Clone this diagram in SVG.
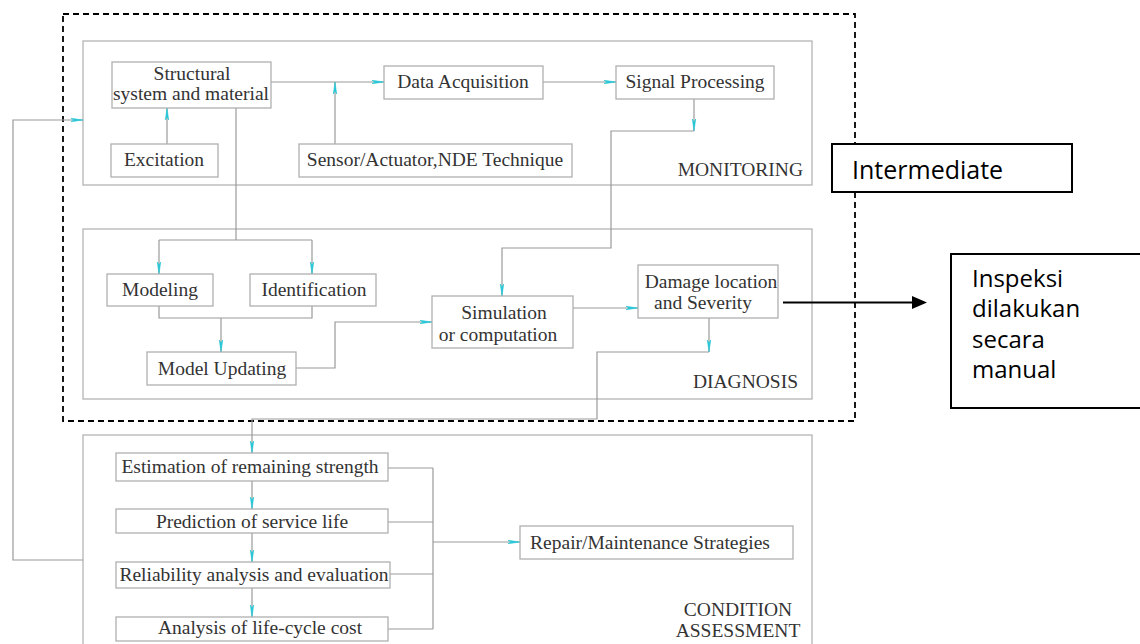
<svg xmlns="http://www.w3.org/2000/svg" width="1140" height="644" viewBox="0 0 1140 644">
  <style>
    .panel { fill: none; stroke: #b4b4b4; stroke-width: 1.3; }
    .box { fill: #fff; stroke: #b0b0b0; stroke-width: 1.3; }
    .wire { fill: none; stroke: #9a9a9a; stroke-width: 1.2; }
    .lbl { font-family: "Liberation Serif", "Times New Roman", serif; font-size: 19.5px; fill: #333; }
    .mid { text-anchor: middle; }
    .end { text-anchor: end; }
    .note { font-family: "Open Sans", "DejaVu Sans", sans-serif; font-size: 25px; fill: #000; }
    .note-sm { font-size: 24px; }
    .notebox { fill: #fff; stroke: #000; stroke-width: 2; }
  </style>
  <defs>
    <marker id="tip" markerUnits="userSpaceOnUse" markerWidth="14" markerHeight="8" refX="12" refY="3.5" orient="auto">
      <path d="M0,1.8 L12,3.5 L0,5.2 L3,3.5 z" fill="#27c7d6" stroke="#27c7d6" stroke-width="0.6"/>
    </marker>
  </defs>

  <rect width="1140" height="644" fill="#fff"/>

  <!-- stage panels -->
  <g id="monitoring">
    <rect class="panel" x="83" y="41" width="729" height="144"/>
    <text class="lbl end" x="803" y="176">MONITORING</text>
  </g>
  <g id="diagnosis">
    <rect class="panel" x="83" y="229" width="729" height="170"/>
    <text class="lbl end" x="798" y="388">DIAGNOSIS</text>
  </g>
  <g id="condition-assessment">
    <rect class="panel" x="83" y="435" width="729" height="220"/>
    <text class="lbl mid" x="738" y="616">CONDITION</text>
    <text class="lbl mid" x="738" y="637">ASSESSMENT</text>
  </g>

  <!-- intermediate boundary -->
  <rect id="intermediate-zone" x="63" y="14" width="792" height="407" fill="none" stroke="#000" stroke-width="1.8" stroke-dasharray="6 4"/>

  <!-- connectors -->
  <g id="connectors">
    <path class="wire" d="M271,82 H384" marker-end="url(#tip)"/>
    <path class="wire" d="M335,144 V82" marker-end="url(#tip)"/>
    <path class="wire" d="M167,144 V108" marker-end="url(#tip)"/>
    <path class="wire" d="M543,82 H616" marker-end="url(#tip)"/>
    <path class="wire" d="M694,99 V131" marker-end="url(#tip)"/>
    <path class="wire" d="M694,131 H611 V248 H502 V296" marker-end="url(#tip)"/>
    <path class="wire" d="M236,108 V240"/>
    <path class="wire" d="M159,240 H312"/>
    <path class="wire" d="M159,240 V274" marker-end="url(#tip)"/>
    <path class="wire" d="M312,240 V274" marker-end="url(#tip)"/>
    <path class="wire" d="M159,306 V318 H312 V306"/>
    <path class="wire" d="M221,318 V352" marker-end="url(#tip)"/>
    <path class="wire" d="M296,368 H335 V322 H432" marker-end="url(#tip)"/>
    <path class="wire" d="M573,308 H638" marker-end="url(#tip)"/>
    <path class="wire" d="M709,318 V352" marker-end="url(#tip)"/>
    <path class="wire" d="M709,352 H597 V419 H252 V453" marker-end="url(#tip)"/>
    <path class="wire" d="M252,481 V509" marker-end="url(#tip)"/>
    <path class="wire" d="M252,533 V562" marker-end="url(#tip)"/>
    <path class="wire" d="M252,588 V617" marker-end="url(#tip)"/>
    <path class="wire" d="M388,468 H433 M388,522 H433 M390,574 H433 M388,629 H433 M433,468 V629"/>
    <path class="wire" d="M433,542 H520" marker-end="url(#tip)"/>
    <path class="wire" d="M83,560 H13 V120 H83" marker-end="url(#tip)"/>
    <path d="M783,302.5 H913" fill="none" stroke="#000" stroke-width="2"/>
    <polygon points="912,296 927,302.5 912,309" fill="#000"/>
  </g>

  <!-- monitoring nodes -->
  <g id="structural">
    <rect class="box" x="112" y="62" width="159" height="46"/>
    <text class="lbl mid" x="192" y="80">Structural</text>
    <text class="lbl mid" x="191" y="100">system and material</text>
  </g>
  <g id="excitation">
    <rect class="box" x="111" y="144" width="107" height="33"/>
    <text class="lbl mid" x="164" y="166">Excitation</text>
  </g>
  <g id="sensor">
    <rect class="box" x="299" y="144" width="273" height="33"/>
    <text class="lbl mid" x="435" y="166">Sensor/Actuator,NDE Technique</text>
  </g>
  <g id="data-acquisition">
    <rect class="box" x="384" y="66" width="159" height="33"/>
    <text class="lbl mid" x="463" y="88">Data Acquisition</text>
  </g>
  <g id="signal-processing">
    <rect class="box" x="616" y="66" width="158" height="33"/>
    <text class="lbl mid" x="695" y="88">Signal Processing</text>
  </g>

  <!-- diagnosis nodes -->
  <g id="modeling">
    <rect class="box" x="107" y="274" width="106" height="32"/>
    <text class="lbl mid" x="160" y="296">Modeling</text>
  </g>
  <g id="identification">
    <rect class="box" x="250" y="274" width="126" height="32"/>
    <text class="lbl mid" x="314" y="296">Identification</text>
  </g>
  <g id="model-updating">
    <rect class="box" x="147" y="352" width="149" height="33"/>
    <text class="lbl mid" x="222" y="375">Model Updating</text>
  </g>
  <g id="simulation">
    <rect class="box" x="432" y="296" width="141" height="52"/>
    <text class="lbl mid" x="504" y="319">Simulation</text>
    <text class="lbl mid" x="498" y="341">or computation</text>
  </g>
  <g id="damage">
    <rect class="box" x="638" y="265" width="140" height="53"/>
    <text class="lbl mid" x="711" y="288">Damage location</text>
    <text class="lbl mid" x="703" y="309">and Severity</text>
  </g>

  <!-- condition assessment nodes -->
  <g id="estimation">
    <rect class="box" x="116" y="453" width="272" height="28"/>
    <text class="lbl mid" x="250" y="473">Estimation of remaining strength</text>
  </g>
  <g id="prediction">
    <rect class="box" x="116" y="509" width="272" height="24"/>
    <text class="lbl mid" x="252" y="528">Prediction of service life</text>
  </g>
  <g id="reliability">
    <rect class="box" x="116" y="562" width="274" height="26"/>
    <text class="lbl mid" x="254" y="581">Reliability analysis and evaluation</text>
  </g>
  <g id="life-cycle-cost">
    <rect class="box" x="116" y="617" width="272" height="24"/>
    <text class="lbl mid" x="260" y="634">Analysis of life-cycle cost</text>
  </g>
  <g id="repair">
    <rect class="box" x="520" y="526" width="273" height="33"/>
    <text class="lbl mid" x="650" y="549">Repair/Maintenance Strategies</text>
  </g>

  <!-- annotations -->
  <g id="intermediate-note">
    <rect class="notebox" x="832" y="144" width="240" height="48"/>
    <text class="note" x="852" y="179">Intermediate</text>
  </g>
  <g id="manual-inspection-note">
    <rect class="notebox" x="951" y="254" width="200" height="154"/>
    <text class="note note-sm" x="972" y="287">Inspeksi</text>
    <text class="note note-sm" x="972" y="317">dilakukan</text>
    <text class="note note-sm" x="972" y="348">secara</text>
    <text class="note note-sm" x="972" y="378">manual</text>
  </g>
</svg>
